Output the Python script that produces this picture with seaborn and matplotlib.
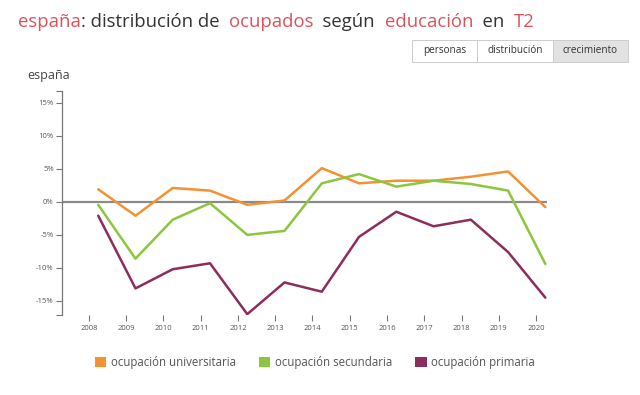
import numpy as np
import pandas as pd
import matplotlib.pyplot as plt
import matplotlib.patches as mpatches
import seaborn as sns

# data: year-on-year growth (%), second quarter (T2)
years = list(range(2008, 2021))
universitaria = [1.9, -2.1, 2.1, 1.7, -0.45, 0.2, 5.1, 2.8, 3.2, 3.2, 3.8, 4.6, -0.8]
secundaria = [-0.45, -8.6, -2.7, -0.2, -5.0, -4.4, 2.8, 4.2, 2.3, 3.2, 2.7, 1.7, -9.4]
primaria = [-2.1, -13.1, -10.2, -9.3, -17.0, -12.2, -13.6, -5.3, -1.5, -3.7, -2.7, -7.6, -14.5]
series_names = ['ocupación universitaria', 'ocupación secundaria', 'ocupación primaria']
colors = ['#f39233', '#8cc63f', '#8e2c5b']
yticks = [-15, -10, -5, 0, 5, 10, 15]

df = pd.DataFrame({
    'year': years * 3,
    'value': universitaria + secundaria + primaria,
    'serie': [series_names[0]] * 13 + [series_names[1]] * 13 + [series_names[2]] * 13,
})
df['x'] = df['year'] + 0.25  # T2 sits a quarter into the year

sns.set_theme(style='white')
plt.rcParams['font.family'] = ['Open Sans', 'DejaVu Sans']

fig = plt.figure(figsize=(6.4, 3.95), dpi=100)
ax = fig.add_axes([0.097, 0.203, 0.758, 0.567])

ax.axhline(0, color='#8a8a8a', lw=1.6, zorder=1)
sns.lineplot(data=df, x='x', y='value', hue='serie', palette=dict(zip(series_names, colors)),
             lw=1.8, legend=False, ax=ax, zorder=3)

ax.set_xlim(2007.28, 2020.3)
ax.set_ylim(-17.1, 16.8)
ax.set_xticks(years)
ax.set_xticklabels([str(y) for y in years], fontsize=5.5, color='#555555')
ax.set_yticks(yticks)
ax.set_yticklabels([f'{t}%' for t in yticks], fontsize=5.5, color='#555555')
ax.set_yticks([-17.1, 16.8], minor=True)
ax.tick_params(axis='y', which='both', direction='out', length=4, width=0.8, color='#777777', left=True, pad=2)
ax.tick_params(axis='x', direction='out', length=4, width=0.8, color='#777777', bottom=True, pad=3)
ax.set_xlabel('')
ax.set_ylabel('')
for s in ['top', 'right', 'bottom']:
    ax.spines[s].set_visible(False)
ax.spines['left'].set_color('#777777')
ax.spines['left'].set_linewidth(0.9)

fig.text(0.043, 0.8, 'españa', fontsize=9, color='#444444')

# title
red = '#d9535b'
dark = '#333333'
parts = [('españa', red), (': distribución de  ', dark), ('ocupados', red), ('  según  ', dark),
         ('educación', red), ('  en  ', dark), ('T2', red)]
renderer = fig.canvas.get_renderer()
xpos = 0.028
for txt, col in parts:
    t = fig.text(xpos, 0.944, txt, fontsize=13.3, color=col, va='center')
    bb = t.get_window_extent(renderer=renderer)
    xpos += bb.width / fig.bbox.width

# buttons
buttons = [('personas', 0.644, 0.745, '#ffffff'), ('distribución', 0.745, 0.864, '#ffffff'),
           ('crecimiento', 0.864, 0.981, '#e2e2e2')]
for label, x0, x1, bg in buttons:
    fig.patches.append(mpatches.Rectangle((x0, 0.843), x1 - x0, 0.056, transform=fig.transFigure,
                                          facecolor=bg, edgecolor='#cccccc', lw=0.7))
    fig.text((x0 + x1) / 2, 0.871, label, fontsize=7.2, color='#333333', ha='center', va='center')

handles = [mpatches.Patch(facecolor=c, edgecolor='none', label=n) for c, n in zip(colors, series_names)]
fig.legend(handles=handles, loc='center', bbox_to_anchor=(0.492, 0.083), ncol=3, frameon=False,
           fontsize=8.3, handlelength=1.0, handleheight=1.0, handletextpad=0.4, columnspacing=2.0,
           labelcolor='#555555')

fig.savefig('out.png', dpi=100)
